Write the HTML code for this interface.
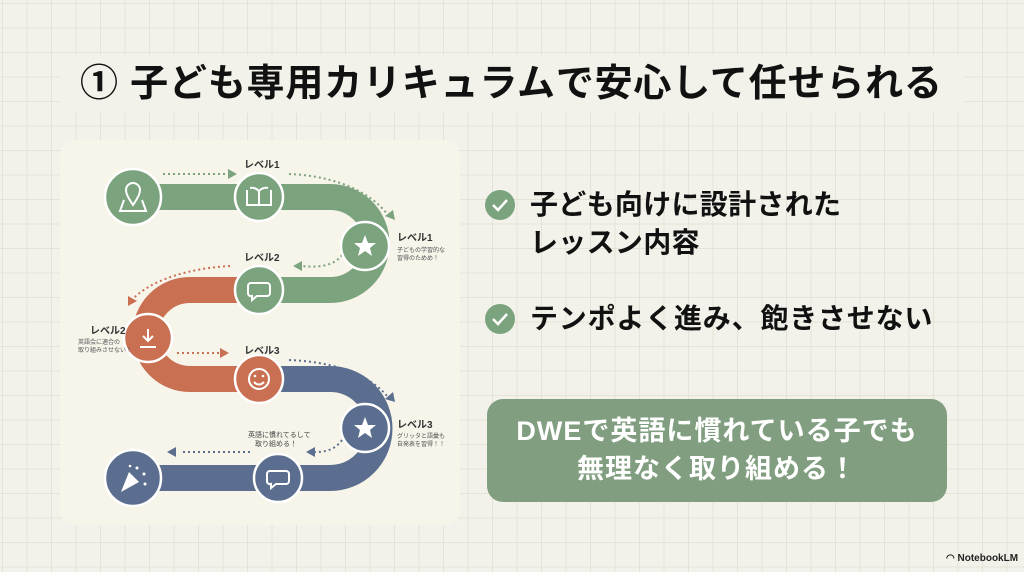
<!DOCTYPE html>
<html><head><meta charset="utf-8"><style>
html,body{margin:0;padding:0}
body{width:1024px;height:572px;overflow:hidden;position:relative;background-color:#f3f2ea;
background-image:linear-gradient(#e5e3d8 1px,transparent 1px),linear-gradient(90deg,#e5e3d8 1px,transparent 1px);
background-size:24.5px 24.5px;background-position:2px 3px;font-family:"Liberation Sans","Noto Sans CJK JP",sans-serif}
.t{position:absolute;white-space:nowrap}
</style></head><body>
<div style="position:absolute;left:60px;top:55px;width:904px;height:58px;background:#f3f2ea"></div>
<div class="t" style="left:80px;top:58px;font-size:38px;font-weight:bold;color:#111;line-height:52px;letter-spacing:0.8px">① 子ども専用カリキュラムで安心して任せられる</div>
<div style="position:absolute;left:60px;top:140px;width:400px;height:385px;background:#f7f4ea;border-radius:14px"></div>
<svg style="position:absolute;left:0;top:0" width="1024" height="572" font-family="Liberation Sans,Noto Sans CJK JP,sans-serif">
<g fill="none" stroke-width="26">
<path d="M133 197 H330 A46.5 46.5 0 0 1 330 290 H259" stroke="#7ba37e"/>
<path d="M259 290 H190 A44.5 44.5 0 0 0 190 379 H259" stroke="#c96f52"/>
<path d="M259 379 H330 A49.5 49.5 0 0 1 330 478 H133" stroke="#5b6e8f"/>
</g>
<g stroke-width="2" stroke-dasharray="2 3" fill="none">
<path d="M163 174 H228" stroke="#7ba37e"/>
<path d="M289 174 C340 176 375 195 390 218" stroke="#7ba37e"/>
<path d="M342 255 C335 265 320 268 302 266" stroke="#7ba37e"/>
<path d="M230 266 C190 268 150 280 132 300" stroke="#c96f52"/>
<path d="M177 353 H220" stroke="#c96f52"/>
<path d="M289 360 C340 362 375 378 390 400" stroke="#5b6e8f"/>
<path d="M342 440 C335 450 325 452 315 452" stroke="#5b6e8f"/>
<path d="M250 452 H182" stroke="#5b6e8f"/>
</g>
<g>
<path d="M228 169 L237 174 L228 179Z" fill="#7ba37e"/>
<path d="M385 216 L395 220 L393 210Z" fill="#7ba37e"/>
<path d="M302 261 L293 266 L302 271Z" fill="#7ba37e"/>
<path d="M128 296 L128 306 L137 301Z" fill="#c96f52"/>
<path d="M220 348 L229 353 L220 358Z" fill="#c96f52"/>
<path d="M385 399 L395 402 L393 392Z" fill="#5b6e8f"/>
<path d="M315 447 L306 452 L315 457Z" fill="#5b6e8f"/>
<path d="M176 447 L167 452 L176 457Z" fill="#5b6e8f"/>
</g>
<g stroke="#fff" stroke-width="2.5">
<circle cx="133" cy="197" r="28" fill="#7ba37e"/>
<circle cx="259" cy="197" r="24" fill="#7ba37e"/>
<circle cx="365" cy="246" r="24" fill="#7ba37e"/>
<circle cx="259" cy="290" r="24" fill="#7ba37e"/>
<circle cx="148" cy="338" r="24" fill="#c96f52"/>
<circle cx="259" cy="379" r="24" fill="#c96f52"/>
<circle cx="365" cy="428" r="24" fill="#5b6e8f"/>
<circle cx="278" cy="478" r="24" fill="#5b6e8f"/>
<circle cx="133" cy="478" r="28" fill="#5b6e8f"/>
</g>
<g fill="none" stroke="#fff" stroke-width="2">
<path d="M124 200 L120 211 H146 L142 200"/><path d="M133 205 C127 196 126 193 126 190 A7 7 0 0 1 140 190 C140 193 139 196 133 205Z"/>
<path d="M247 190 V205 H271 V190 M259 191 V205 M250 188 Q255 187 259 191 Q263 187 268 188"/>
<path d="M251 283 H267 A3 3 0 0 1 270 286 V293 A3 3 0 0 1 267 296 H257 L252 300 V296 A3 3 0 0 1 248 293 V286 A3 3 0 0 1 251 283Z"/>
<path d="M270 471 H286 A3 3 0 0 1 289 474 V481 A3 3 0 0 1 286 484 H276 L271 488 V484 A3 3 0 0 1 267 481 V474 A3 3 0 0 1 270 471Z"/>
<path d="M148 329 V341 M143 336 L148 341 L153 336 M140 347 H156"/>
<circle cx="259" cy="379" r="10"/><path d="M254 382 Q259 387 264 382"/>
</g>
<g fill="#fff"><circle cx="255" cy="376" r="1.3"/><circle cx="263" cy="376" r="1.3"/>
<path d="M365 235 L368 243 L376 243 L370 248 L372 256 L365 251 L358 256 L360 248 L354 243 L362 243Z"/>
<path d="M365 417 L368 425 L376 425 L370 430 L372 438 L365 433 L358 438 L360 430 L354 425 L362 425Z"/>
<path d="M121 492 L129 472 L139 482Z"/><circle cx="137" cy="468" r="1.5"/><circle cx="144" cy="474" r="1.5"/><circle cx="145" cy="484" r="1.5"/><circle cx="130" cy="466" r="1.3"/></g>
<g font-size="10" font-weight="bold" fill="#333">
<text x="244" y="168">レベル1</text>
<text x="397" y="241">レベル1</text>
<text x="244" y="261">レベル2</text>
<text x="90" y="334">レベル2</text>
<text x="244" y="354">レベル3</text>
<text x="397" y="428">レベル3</text>
</g>
<g font-size="6" fill="#555">
<text x="397" y="252">子どもの学習的な</text><text x="397" y="260">習得のためめ！</text>
<text x="78" y="344">英語会に適合の</text><text x="78" y="352">取り組みさせない！</text>
<text x="397" y="438">グリッタと語彙も</text><text x="397" y="446">自発表を習得！！</text>
</g>
<g font-size="7" fill="#444"><text x="248" y="437">英語に慣れてるして</text><text x="255" y="446">取り組める！</text></g>
<g><circle cx="500" cy="205" r="15" fill="#7ba37e"/><circle cx="500" cy="319" r="15" fill="#7ba37e"/>
<path d="M493 205 L498 210 L507 200 M493 319 L498 324 L507 314" stroke="#fff" stroke-width="2.5" fill="none"/></g>
</svg>
<div class="t" style="left:530px;top:186px;font-size:28px;font-weight:bold;color:#111;line-height:38px;letter-spacing:0.3px">子ども向けに設計された<br>レッスン内容</div>
<div class="t" style="left:530px;top:300px;font-size:28px;font-weight:bold;color:#111;line-height:38px;letter-spacing:0.8px">テンポよく進み、飽きさせない</div>
<div style="position:absolute;left:487px;top:399px;width:460px;height:103px;background:#819f80;border-radius:16px;color:#fff;font-size:27px;font-weight:bold;text-align:center;line-height:38px;padding-top:13px;box-sizing:border-box;letter-spacing:1px">DWEで英語に慣れている子でも<br>無理なく取り組める！</div>
<div class="t" style="left:946px;top:553px;font-size:10px;font-weight:bold;color:#222">◠ NotebookLM</div>
</body></html>
